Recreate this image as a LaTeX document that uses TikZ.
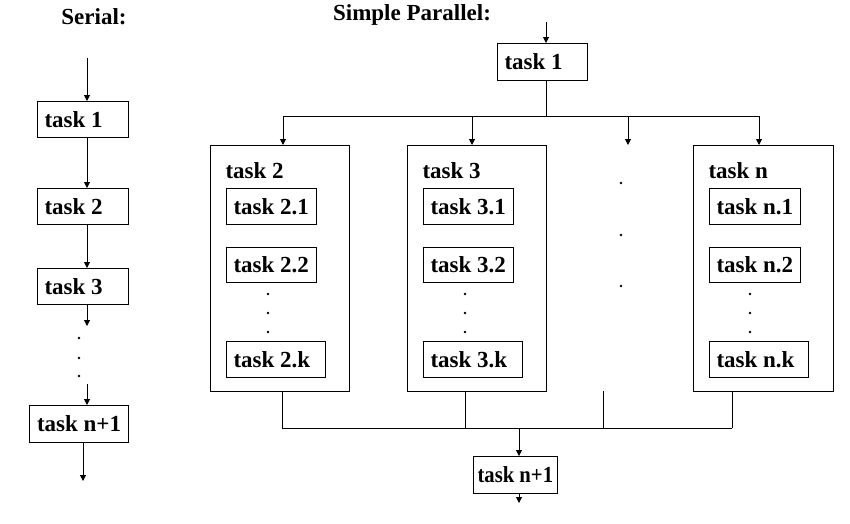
\documentclass[tikz,border=0pt]{standalone}
\usepackage{graphicx}
\usepackage{fontspec}
\setmainfont{Liberation Serif}
\usetikzlibrary{arrows.meta}
\newcommand\lbox[2]{\makebox[#1][l]{#2}}
\tikzset{
  every picture/.style={line width=1pt},
  txt/.style={font=\bfseries\fontsize{23}{26}\selectfont, inner sep=0pt},
  box/.style={draw, txt, anchor=north west, inner xsep=7pt, inner ysep=0pt},
  big/.style={draw, anchor=north west, inner sep=0pt, minimum width=139pt, minimum height=246pt},
  arr/.style={-{Triangle[length=6pt,width=6pt]}},
  dotm/.style={fill=black},
}
\begin{document}
\begin{tikzpicture}[x=1pt,y=-1pt]
\useasboundingbox (0,0) rectangle (850,523);
% titles
\node[txt] (tser) at (94,17) {Serial:};
\node[txt] (tpar) at (412,15) {Simple Parallel:};
% serial column
\node[box, minimum height=36pt] (s1) at (37,101) {\lbox{77pt}{task 1}};
\node[box, minimum height=36pt] (s2) at (37,188) {\lbox{77pt}{task 2}};
\node[box, minimum height=36pt] (s3) at (37,268) {\lbox{77pt}{task 3}};
\node[box, minimum height=37pt, inner xsep=7.5pt] (sn) at (29,405) {\lbox{84pt}{task n+1}};
\coordinate (sin) at (87,58);
\coordinate (sgap1) at (87,326);
\coordinate (sgap2) at (87,384);
\coordinate (sout) at (83,481);
\draw[arr] (sin) -- (sin |- s1.north);
\draw[arr] (s1.south -| sin) -- (s2.north -| sin);
\draw[arr] (s2.south -| sin) -- (s3.north -| sin);
\draw[arr] (s3.south -| sin) -- (sgap1);
\draw[arr] (sgap2) -- (sgap2 |- sn.north);
\draw[arr] (sn.south -| sout) -- (sout);
\foreach \y in {338,358,376} \fill[dotm] (79,\y) circle (1.4pt);
% parallel: top
\node[box, minimum height=37pt] (p1) at (497,43) {\lbox{76pt}{task 1}};
\coordinate (pin) at (546,22);
\coordinate (split) at (546,116);
\coordinate (f2) at (283,116);
\coordinate (f3) at (472,116);
\coordinate (fm) at (628,116);
\coordinate (fn) at (759,116);
\coordinate (fmend) at (628,145);
\draw[arr] (pin) -- (pin |- p1.north);
\draw (p1.south -| split) -- (split);
\draw (f2) -- (fn);
% big boxes
\node[big] (B2) at (210,145) {};
\node[big] (B3) at (407,145) {};
\node[big, minimum width=140pt] (Bn) at (693,145) {};
\draw[arr] (f2) -- (f2 |- B2.north);
\draw[arr] (f3) -- (f3 |- B3.north);
\draw[arr] (fm) -- (fmend);
\draw[arr] (fn) -- (fn |- Bn.north);
% labels
\node[txt, anchor=west] (l2) at (225,171) {task 2};
\node[txt, anchor=west] (l3) at (422,171) {task 3};
\node[txt, anchor=west] (ln) at (708,171) {task n};
% sub boxes
\node[box, minimum height=36pt] (b21) at (226,188) {\lbox{76pt}{task 2.1}};
\node[box, minimum height=35pt] (b22) at (226,247) {\lbox{76pt}{task 2.2}};
\node[box, minimum height=36pt] (b2k) at (226,341) {\lbox{85pt}{task 2.k}};
\node[box, minimum height=36pt] (b31) at (423,188) {\lbox{76pt}{task 3.1}};
\node[box, minimum height=35pt] (b32) at (423,247) {\lbox{76pt}{task 3.2}};
\node[box, minimum height=36pt] (b3k) at (423,341) {\lbox{85pt}{task 3.k}};
\node[box, minimum height=36pt] (bn1) at (709,188) {\lbox{77pt}{task n.1}};
\node[box, minimum height=35pt] (bn2) at (709,247) {\lbox{77pt}{task n.2}};
\node[box, minimum height=36pt] (bnk) at (709,341) {\lbox{85pt}{task n.k}};
\foreach \x in {268,465,750} \foreach \y in {294,313,332} \fill[dotm] (\x,\y) circle (1.4pt);
\foreach \y in {183,235,286} \fill[dotm] (621,\y) circle (1.4pt);
% bottom join
\coordinate (j2) at (282,428);
\coordinate (j3) at (465,428);
\coordinate (jmtop) at (603,391);
\coordinate (jm) at (603,428);
\coordinate (jn) at (732,428);
\coordinate (join) at (519,428);
\coordinate (pout) at (519,503);
\draw (B2.south -| j2) -- (j2);
\draw (B3.south -| j3) -- (j3);
\draw (jmtop) -- (jm);
\draw (Bn.south -| jn) -- (jn);
\draw (j2) -- (jn);
\node[box, minimum height=37pt, inner xsep=4pt] (pn) at (473,456) {\lbox{76pt}{\scalebox{0.9}[1]{task n+1}}};
\draw[arr] (join) -- (join |- pn.north);
\draw[arr] (pn.south -| pout) -- (pout);
\end{tikzpicture}
\end{document}
